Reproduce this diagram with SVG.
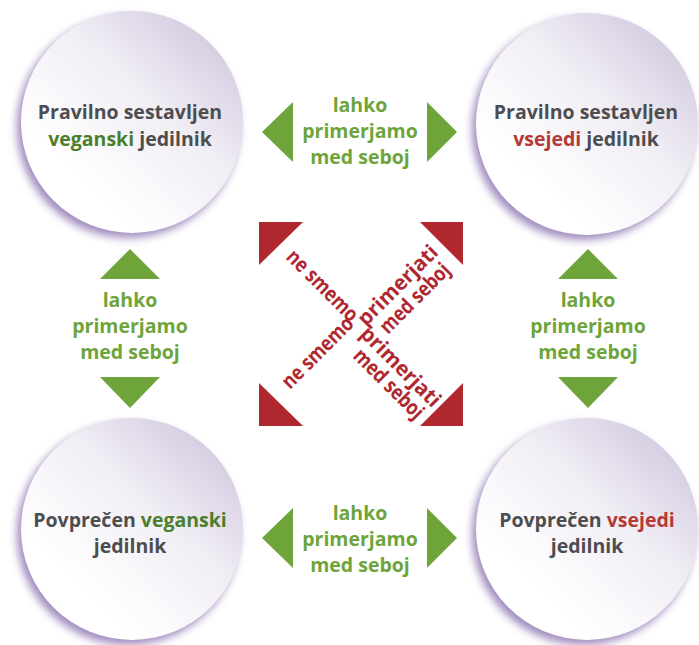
<svg xmlns="http://www.w3.org/2000/svg" width="699" height="645" viewBox="0 0 699 645">
<defs>
<linearGradient id="cg" x1="0.9" y1="0.05" x2="0.25" y2="0.75">
<stop offset="0" stop-color="#cfc6de"/>
<stop offset="0.5" stop-color="#f1eef5"/>
<stop offset="1" stop-color="#ffffff"/>
</linearGradient>
<filter id="sh" x="-20%" y="-20%" width="140%" height="140%">
<feGaussianBlur stdDeviation="4"/>
</filter>
</defs>
<style>
.shadow{fill:#8f76b3;filter:url(#sh);opacity:0.85}
.disc{fill:url(#cg)}
.ct{font-family:"Open Sans","Noto Sans",sans-serif;font-weight:700;font-size:19.5px;fill:#4d4d4f;text-anchor:middle}
.gv{fill:#4b7f2a}
.rv{fill:#b53a35}
.gl{font-family:"Open Sans","Noto Sans",sans-serif;font-weight:700;font-size:19.5px;fill:#6ea43a;text-anchor:middle}
.ga{fill:#6ea43a}
.rx{fill:#b0282f}
.rt{font-family:"Open Sans","Noto Sans",sans-serif;font-weight:700;font-size:21px;fill:#b0282f}
</style>
<rect width="699" height="645" fill="#ffffff"/>

<g id="node-tl">
<circle class="shadow" cx="128" cy="127" r="111"/>
<circle class="disc" cx="132" cy="122" r="111"/>
<text class="ct" x="130" y="119">Pravilno sestavljen</text>
<text class="ct" x="130" y="146"><tspan class="gv">veganski</tspan> jedilnik</text>
</g>
<g id="node-tr">
<circle class="shadow" cx="583" cy="129" r="111"/>
<circle class="disc" cx="587" cy="124" r="111"/>
<text class="ct" x="586" y="119">Pravilno sestavljen</text>
<text class="ct" x="586" y="146"><tspan class="rv">vsejedi</tspan> jedilnik</text>
</g>
<g id="node-bl">
<circle class="shadow" cx="128" cy="534" r="111"/>
<circle class="disc" cx="132" cy="529" r="111"/>
<text class="ct" x="130" y="527">Povprečen <tspan class="gv">veganski</tspan></text>
<text class="ct" x="130" y="553">jedilnik</text>
</g>
<g id="node-br">
<circle class="shadow" cx="583" cy="534" r="111"/>
<circle class="disc" cx="587" cy="529" r="111"/>
<text class="ct" x="587" y="527">Povprečen <tspan class="rv">vsejedi</tspan></text>
<text class="ct" x="587" y="553">jedilnik</text>
</g>

<g id="connectors">
<g id="conn-top">
<polygon class="ga" points="262,132 293,102 293,162"/>
<polygon class="ga" points="457,132 427,102 427,162"/>
<text class="gl" x="360" y="112">lahko</text>
<text class="gl" x="360" y="138">primerjamo</text>
<text class="gl" x="360" y="164">med seboj</text>
</g>
<g id="conn-bottom">
<polygon class="ga" points="262,538 293,508 293,568"/>
<polygon class="ga" points="457,538 427,508 427,568"/>
<text class="gl" x="360" y="520">lahko</text>
<text class="gl" x="360" y="546">primerjamo</text>
<text class="gl" x="360" y="572">med seboj</text>
</g>
<g id="conn-left">
<polygon class="ga" points="130,249 100,279 160,279"/>
<polygon class="ga" points="130,408 100,377 160,377"/>
<text class="gl" x="130" y="307">lahko</text>
<text class="gl" x="130" y="333">primerjamo</text>
<text class="gl" x="130" y="359">med seboj</text>
</g>
<g id="conn-right">
<polygon class="ga" points="588,249 558,279 618,279"/>
<polygon class="ga" points="588,408 558,377 618,377"/>
<text class="gl" x="588" y="307">lahko</text>
<text class="gl" x="588" y="333">primerjamo</text>
<text class="gl" x="588" y="359">med seboj</text>
</g>
<g id="conn-cross">
<polygon class="rx" points="259,222 303,222 259,265"/>
<polygon class="rx" points="420,222 463,222 463,265"/>
<polygon class="rx" points="259,383 259,426 303,426"/>
<polygon class="rx" points="463,383 463,426 420,426"/>
<text class="rt" transform="translate(285,258) rotate(45)" textLength="92" lengthAdjust="spacingAndGlyphs">ne smemo</text>
<text class="rt" transform="translate(366,327) rotate(-45)" textLength="104" lengthAdjust="spacingAndGlyphs">primerjati</text>
<text class="rt" transform="translate(388,335) rotate(-45)" textLength="90" lengthAdjust="spacingAndGlyphs">med seboj</text>
<text class="rt" transform="translate(290,390) rotate(-45)" textLength="92" lengthAdjust="spacingAndGlyphs">ne smemo</text>
<text class="rt" transform="translate(359,335) rotate(45)" textLength="104" lengthAdjust="spacingAndGlyphs">primerjati</text>
<text class="rt" transform="translate(352,357) rotate(45)" textLength="90" lengthAdjust="spacingAndGlyphs">med seboj</text>
</g>
</g>
</svg>
